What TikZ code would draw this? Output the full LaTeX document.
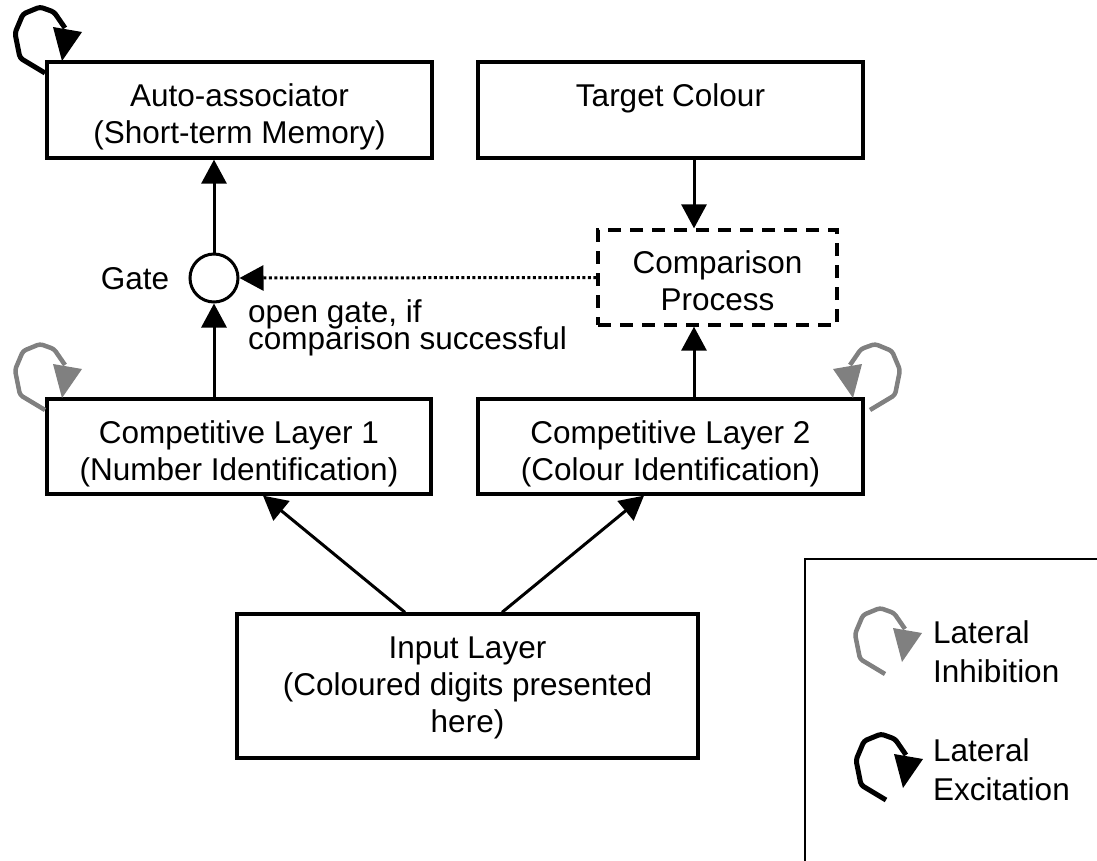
\documentclass[tikz,border=0pt]{standalone}
\usepackage{fontspec}
\setmainfont{Liberation Sans}
\usetikzlibrary{arrows.meta}
\definecolor{loopgray}{RGB}{128,128,128}
\newcommand\mytightlines{\fontsize{31.5}{27}\selectfont\lineskiplimit-50pt\relax}
\tikzset{
  box/.style={draw, line width=3.3pt, inner sep=0pt},
  txt/.style={font=\fontsize{31.5}{37}\selectfont, align=center, inner sep=0pt, anchor=base},
  ltxt/.style={font=\fontsize{31.5}{39}\selectfont, align=left, inner sep=0pt, anchor=base west},
  conn/.style={line width=3pt, -{Triangle[length=24pt,width=25pt]}},
  lateral/.pic={
    \draw[line join=round, rounded corners=3pt] (-17,12) -- (-42,-3) -- (-47,-28) -- (-39,-47) -- (-22,-54) -- (-8,-49) -- (3,-33);
    \fill (0,0) -- (-9,-34) -- (20,-29) -- cycle;
  },
}
\begin{document}
\begin{tikzpicture}[x=1pt,y=-1pt]
\useasboundingbox (0,0) rectangle (1097,860);
\clip (0,0) rectangle (1097,860);
% boxes
\node[box, minimum width=385pt, minimum height=96pt] (auto) at (239.5,110) {};
\node[box, minimum width=385pt, minimum height=96pt] (target) at (670.5,110) {};
\node[box, dash pattern=on 13pt off 9pt, minimum width=239pt, minimum height=95pt] (comp) at (717.5,277.5) {};
\node[draw, circle, line width=3pt, minimum size=48pt, inner sep=0pt] (gate) at (214,278) {};
\node[box, minimum width=384pt, minimum height=95pt] (c1) at (239,446.5) {};
\node[box, minimum width=385pt, minimum height=95pt] (c2) at (670.5,446.5) {};
\node[box, minimum width=461pt, minimum height=144pt] (input) at (467.5,686) {};
% texts (base anchor = baseline of the last line)
\node[txt] (autot) at (239.5,143) {Auto-associator\\(Short-term Memory)};
\node[txt] (targett) at (670.5,106) {Target Colour};
\node[txt] (compt) at (717.5,310) {Comparison\\Process};
\node[txt] (c1t) at (239,480) {Competitive Layer 1\\(Number Identification)};
\node[txt] (c2t) at (670.5,480) {Competitive Layer 2\\(Colour Identification)};
\node[txt] (inputt) at (467.5,732) {Input Layer\\(Coloured digits presented\\here)};
\node[txt] (gatet) at (135,289) {Gate};
\node[inner sep=0pt, anchor=base west, align=left, font=\mytightlines] (opent) at (248,349) {open gate, if\\comparison successful};
% connector coordinates
\coordinate (xcmp) at (694,0);
\coordinate (ia) at (405,0);
\coordinate (ib) at (502,0);
\coordinate (ca) at (263,0);
\coordinate (cb) at (644,0);
% connectors
\draw[conn] (target.south -| xcmp) -- (comp.north -| xcmp);
\draw[conn] (c2.north -| xcmp) -- (comp.south -| xcmp);
\draw[conn] (gate.north) -- (gate.north |- auto.south);
\draw[conn] (c1.north -| gate) -- (gate.south);
\draw[conn, dash pattern=on 3pt off 2.5pt] (comp.west) -- (gate.east);
\draw[conn] (input.north -| ia) -- (c1.south -| ca);
\draw[conn] (input.north -| ib) -- (c2.south -| cb);
% lateral loops
\pic[line width=5pt] at (62,61) {lateral};
\pic[loopgray, line width=4.5pt] at (62,398) {lateral};
\pic[loopgray, line width=4.5pt, xscale=-1] at (853,398) {lateral};
% legend
\draw[line width=2pt] (1110,559) -| (805,870);
\pic[loopgray, line width=4.5pt] at (902,662) {lateral};
\pic[line width=5pt] at (903,788) {lateral};
\node[ltxt] (inh) at (933,682) {Lateral\\Inhibition};
\node[ltxt] (exc) at (933,800) {Lateral\\Excitation};
\end{tikzpicture}
\end{document}
